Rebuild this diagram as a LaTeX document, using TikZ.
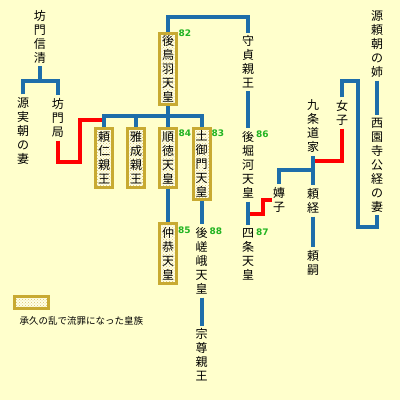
\documentclass[tikz,border=0pt]{standalone}
\usepackage{fontspec}
\newfontfamily\cjk{Noto Sans CJK JP}
\newfontfamily\numfont{DejaVu Sans}
\usetikzlibrary{patterns,calc,backgrounds}
\definecolor{bgc}{HTML}{FFFFCC}
\definecolor{gold}{HTML}{C8AA32}
\definecolor{boxbg}{HTML}{FFFFE6}
\definecolor{lineblue}{HTML}{1E6EAA}
\definecolor{linered}{HTML}{FF0000}
\definecolor{grn}{HTML}{22B422}
\tikzset{
  vt/.style={font=\cjk\fontsize{12}{14}\selectfont, align=center, inner xsep=1pt, inner ysep=3pt},
  exile/.style={vt, draw=gold, line width=3pt, inner sep=0pt, minimum width=17pt,
    preaction={fill=boxbg}, pattern=crosshatch dots, pattern color=gold!70},
  exilefour/.style={exile, minimum height=59.6pt},
  exilefive/.style={exile, minimum height=71pt},
  num/.style={font=\numfont\bfseries\fontsize{9}{9}\selectfont, text=grn, inner sep=0pt, anchor=north west},
  bl/.style={draw=lineblue, line width=4pt, line join=miter},
  rd/.style={draw=linered, line width=4pt, line join=miter},
}
\begin{document}
\begin{tikzpicture}[x=1pt,y=-1pt]
\begin{pgfonlayer}{background}
\fill[bgc] (0,0) rectangle (400,400);
\end{pgfonlayer}
\useasboundingbox (0,0) rectangle (400,400);

% nodes
\node[vt] (bomon) at (40,36.5) {坊\\門\\信\\清};
\node[vt] (sanetomo) at (23,131) {源\\実\\朝\\の\\妻};
\node[vt] (tsubone) at (58,118) {坊\\門\\局};
\node[exilefour] (yorihito) at (104,158) {頼\\仁\\親\\王};
\node[exilefour] (masanari) at (136,158) {雅\\成\\親\\王};
\node[exilefour] (juntoku) at (168,158) {順\\徳\\天\\皇};
\node[exilefive] (tsuchimikado) at (201.5,164) {土\\御\\門\\天\\皇};
\node[exilefive] (gotoba) at (168,69) {後\\鳥\\羽\\天\\皇};
\node[exilefour] (nakakyo) at (168,253.5) {仲\\恭\\天\\皇};
\node[vt] (morisada) at (248,62) {守\\貞\\親\\王};
\node[vt] (gohorikawa) at (248,165) {後\\堀\\河\\天\\皇};
\node[vt] (shijo) at (248,254.5) {四\\条\\天\\皇};
\node[vt] (gosaga) at (201.5,261) {後\\嵯\\峨\\天\\皇};
\node[vt] (munetaka) at (201.5,355) {宗\\尊\\親\\王};
\node[vt] (yoshiko) at (279,200) {嫥\\子};
\node[vt] (kujo) at (313,126.5) {九\\条\\道\\家};
\node[vt] (joshi) at (342,113) {女\\子};
\node[vt] (yoritsune) at (313,201) {頼\\経};
\node[vt] (yoritsugu) at (313,263) {頼\\嗣};
\node[vt] (ane) at (377,44) {源\\頼\\朝\\の\\姉};
\node[vt] (kintsune) at (377,165) {西\\園\\寺\\公\\経\\の\\妻};

% numbers
\node[num] (n82) at (178.5,29.5) {82};
\node[num] (n84) at (178.5,129.5) {84};
\node[num] (n83) at (211.5,129.5) {83};
\node[num] (n86) at (256,131) {86};
\node[num] (n85) at (178,227) {85};
\node[num] (n88) at (209.5,227.5) {88};
\node[num] (n87) at (256,228.5) {87};

% legend
\node[exile, minimum width=34pt, minimum height=12pt] (legbox) at (31.5,302.5) {};
\node[font=\cjk\fontsize{9.5}{9.5}\selectfont, inner sep=0pt] (legtext) at (81.5,321) {承久の乱で流罪になった皇族};

% junction coordinates
\coordinate (jb) at (40,81);
\coordinate (rr1) at (80,162);
\coordinate (rr2) at (104,120);
\coordinate (jg) at (168,116);
\coordinate (jt) at (208,17);
\coordinate (jk) at (313,170);
\coordinate (jr) at (313,161);
\coordinate (kb1) at (358,81);
\coordinate (kb2) at (358,227);

\begin{pgfonlayer}{background}
% red connectors
\draw[rd] (tsubone.south) |- (rr1) |- (rr2);
\draw[rd] (yoshiko.west) -- ++(-9,0) |- ($(gohorikawa.south)!.5!(shijo.north)$);
\draw[rd] (joshi.south) |- (jr);
% blue connectors
\draw[bl] (bomon.south) -- (jb);
\draw[bl] (sanetomo.north) |- (jb) -| (tsubone.north);
\draw[bl] (gotoba.south) -- (juntoku.north);
\draw[bl] (yorihito.north) |- (tsuchimikado.north |- jg) -- (tsuchimikado.north);
\draw[bl] (masanari.north) -- (masanari.north |- jg);
\draw[bl] (gotoba.north) |- (jt) -| (morisada.north);
\draw[bl] (morisada.south) -- (gohorikawa.north);
\draw[bl] (gohorikawa.south) -- (shijo.north);
\draw[bl] (kujo.south) -- (yoritsune.north);
\draw[bl] (jk) -| (yoshiko.north);
\draw[bl] (ane.south) -- (kintsune.north);
\draw[bl] (joshi.north) |- (kb1) -- (kb2) -| (kintsune.south);
\draw[bl] (yoritsune.south) -- (yoritsugu.north);
\draw[bl] (juntoku.south) -- (nakakyo.north);
\draw[bl] (tsuchimikado.south) -- (gosaga.north);
\draw[bl] (gosaga.south) -- (munetaka.north);
\end{pgfonlayer}
\end{tikzpicture}
\end{document}
